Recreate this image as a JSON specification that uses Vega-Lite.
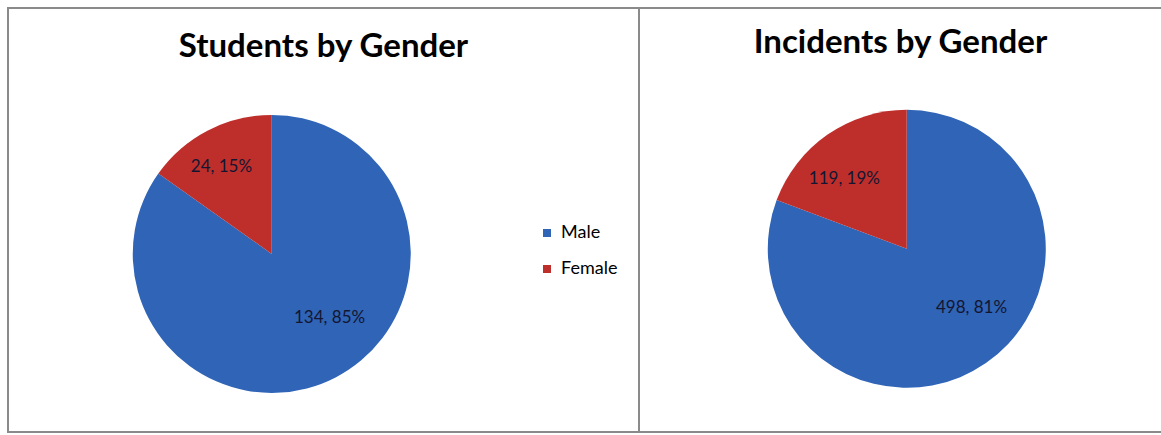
{
  "$schema": "https://vega.github.io/schema/vega-lite/v6.json",
  "padding": {"left": 7, "top": 7, "right": 0, "bottom": 0},
  "spacing": 0,
  "bounds": "flush",
  "background": "white",
  "config": {
    "view": {"stroke": "#8a8a8a", "strokeWidth": 2},
    "font": "Lato",
    "title": {"font": "Lato", "fontWeight": "bold", "fontSize": 33, "color": "#000000", "anchor": "middle"}
  },
  "datasets": {
    "students": [
      {"chart": "Students", "gender": "Male", "count": 134, "order": 1, "label": "134, 85%"},
      {"chart": "Students", "gender": "Female", "count": 24, "order": 2, "label": "24, 15%"}
    ],
    "incidents": [
      {"chart": "Incidents", "gender": "Male", "count": 498, "order": 1, "label": "498, 81%"},
      {"chart": "Incidents", "gender": "Female", "count": 119, "order": 2, "label": "119, 19%"}
    ]
  },
  "hconcat": [
    {
      "width": 631,
      "height": 424,
      "title": {"text": "Students by Gender", "offset": -56},
      "data": {"name": "students"},
      "encoding": {
        "x": {"field": "chart", "type": "nominal", "scale": {"align": 0.418}, "axis": null},
        "y": {"field": "chart", "type": "nominal", "scale": {"align": 0.58}, "axis": null},
        "theta": {"field": "count", "type": "quantitative", "stack": true},
        "order": {"field": "order", "type": "quantitative"}
      },
      "layer": [
        {
          "mark": {"type": "arc", "outerRadius": 139},
          "encoding": {
            "color": {
              "field": "gender", "type": "nominal",
              "scale": {"domain": ["Male", "Female"], "range": ["#2F64B6", "#BE2F2B"]},
              "legend": {
                "orient": "none", "legendX": 530, "legendY": 216, "title": null,
                "symbolType": "square", "symbolSize": 64, "symbolStrokeWidth": 0,
                "labelFont": "Lato", "labelFontSize": 18, "labelColor": "#000000",
                "rowPadding": 18, "labelOffset": 5
              }
            }
          }
        },
        {
          "mark": {"type": "text", "radius": 86, "thetaOffset": -0.26, "fontSize": 17, "font": "Lato", "color": "#141631"},
          "encoding": {"text": {"condition": {"test": "datum.gender === 'Male'", "field": "label"}, "value": ""}}
        },
        {
          "mark": {"type": "text", "radius": 100, "thetaOffset": -0.05, "fontSize": 17, "font": "Lato", "color": "#141631"},
          "encoding": {"text": {"condition": {"test": "datum.gender === 'Female'", "field": "label"}, "value": ""}}
        }
      ]
    },
    {
      "width": 523,
      "height": 424,
      "title": {"text": "Incidents by Gender", "offset": -52},
      "data": {"name": "incidents"},
      "encoding": {
        "x": {"field": "chart", "type": "nominal", "scale": {"align": 0.512}, "axis": null},
        "y": {"field": "chart", "type": "nominal", "scale": {"align": 0.568}, "axis": null},
        "theta": {"field": "count", "type": "quantitative", "stack": true},
        "order": {"field": "order", "type": "quantitative"}
      },
      "layer": [
        {
          "mark": {"type": "arc", "outerRadius": 139},
          "encoding": {
            "color": {
              "field": "gender", "type": "nominal",
              "scale": {"domain": ["Male", "Female"], "range": ["#2F64B6", "#BE2F2B"]},
              "legend": null
            }
          }
        },
        {
          "mark": {"type": "text", "radius": 88, "thetaOffset": -0.22, "fontSize": 17, "font": "Lato", "color": "#141631"},
          "encoding": {"text": {"condition": {"test": "datum.gender === 'Male'", "field": "label"}, "value": ""}}
        },
        {
          "mark": {"type": "text", "radius": 94, "thetaOffset": -0.12, "fontSize": 17, "font": "Lato", "color": "#141631"},
          "encoding": {"text": {"condition": {"test": "datum.gender === 'Female'", "field": "label"}, "value": ""}}
        }
      ]
    }
  ],
  "resolve": {"scale": {"x": "independent", "y": "independent", "theta": "independent"}}
}
